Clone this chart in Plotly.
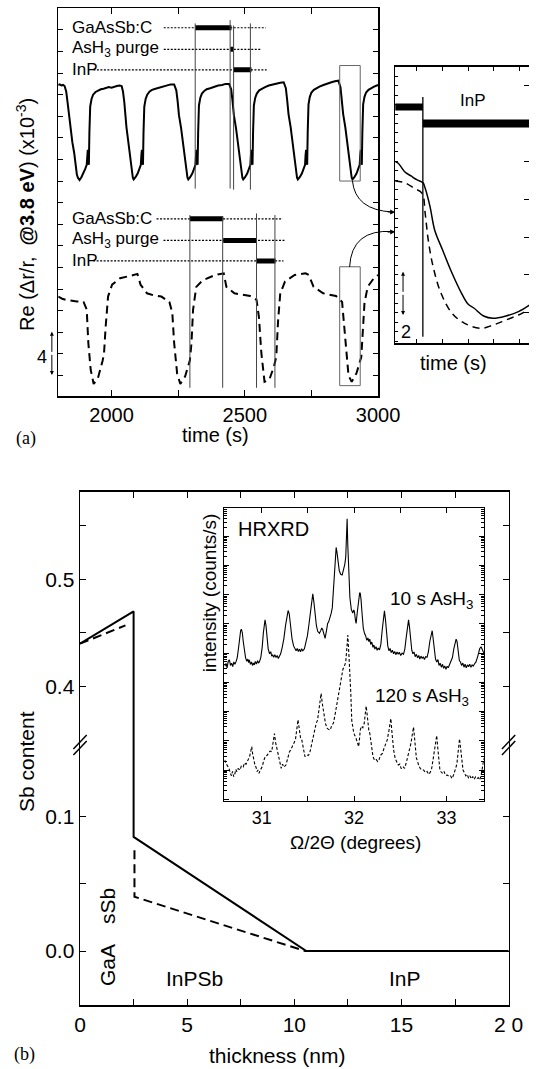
import plotly.graph_objects as go

W, H = 551, 1069
def fx(px): return px / W
def fy(py): return 1 - py / H

FONT = "Liberation Sans, Arial, sans-serif"
SERIF = "Liberation Serif, Times New Roman, serif"

# ---------------- Panel (a): RAS transients (Re dr/r, 1e-3, offset) ----------------
t_10s = [1800,1806,1812,1818,1824,1830,1835,1840,1845,1853,1860,1865,1870,1874,1877,1880,1887,1895,1901,1907,1909,1911,1913,1915,1917,1920,1925,1931,1940,1949,1960,1970,1980,1990,2000,2010,2020,2030,
         2038,2043,2048,2056,2063,2068,2073,2077,2080,2083,2090,2098,2104,2110,2112,2114,2116,2118,2120,2123,2128,2134,2143,2152,2165,2180,2195,2210,2222,2235,
         2243,2248,2253,2261,2268,2273,2278,2282,2285,2288,2295,2303,2309,2315,2317,2319,2321,2323,2325,2328,2333,2339,2348,2357,2370,2385,2400,2415,2428,2441,
         2449,2454,2459,2467,2474,2479,2484,2488,2491,2494,2501,2509,2515,2521,2523,2525,2527,2529,2531,2534,2539,2545,2554,2563,2576,2590,2605,2620,2633,2646,
         2654,2659,2664,2672,2679,2684,2689,2693,2696,2699,2706,2714,2720,2726,2728,2730,2732,2734,2736,2739,2744,2750,2759,2768,2780,2795,2810,2825,2838,2851,
         2859,2864,2869,2877,2884,2889,2894,2898,2901,2904,2911,2919,2925,2931,2933,2935,2937,2939,2941,2944,2949,2955,2964,2973,2985,3000]
re_10s = [28.9,28.95,28.85,28.9,28.8,28.3,27.3,26.1,25.0,23.6,22.6,21.4,20.6,20.3,20.2,20.1,20.35,20.7,21.1,21.5,22.4,22.9,22.2,21.5,24.5,26.9,27.6,28.0,28.25,28.4,28.5,28.55,28.6,28.7,28.65,28.75,28.8,28.85,
          28.8,28.3,27.3,25.0,23.6,22.6,21.4,20.6,20.3,20.15,20.35,20.7,21.1,21.5,22.4,22.9,22.2,21.5,24.5,26.9,27.6,28.0,28.3,28.45,28.55,28.65,28.75,28.85,28.95,28.95,
          28.4,27.4,26.1,24.9,23.6,22.6,21.4,20.6,20.3,20.15,20.35,20.7,21.1,21.5,22.4,22.9,22.2,21.5,24.5,27.0,27.7,28.1,28.35,28.5,28.6,28.75,28.85,28.9,29.0,29.0,
          28.5,27.4,26.1,24.9,23.6,22.6,21.4,20.6,20.3,20.15,20.35,20.7,21.1,21.5,22.4,22.9,22.2,21.5,24.5,27.0,27.7,28.1,28.4,28.55,28.7,28.85,28.95,29.05,29.1,29.15,
          28.6,27.5,26.2,25.0,23.6,22.6,21.4,20.6,20.3,20.15,20.35,20.7,21.1,21.5,22.4,22.9,22.2,21.5,24.5,27.1,27.8,28.2,28.45,28.6,28.75,28.9,29.05,29.15,29.25,29.3,
          28.7,27.5,26.2,25.0,23.6,22.6,21.4,20.6,20.3,20.15,20.35,20.7,21.1,21.5,22.4,22.9,22.2,21.5,24.5,27.1,27.8,28.2,28.45,28.6,28.75,28.9]
t_120s = [1800,1815,1829,1850,1870,1895,1903,1907,1913,1922,1933,1949,1967,1972,1978,1987,2002,2032,2068,2097,2109,2133,2160,2187,2217,2228,2235,2246,2258,2276,2294,2300,2306,2318,2342,2389,2421,2431,2461,2520,2544,2553,2562,2574,2592,2609,2618,2625,2633,2651,2687,2728,2740,2758,2794,2842,2865,2871,2879,2889,2901,2919,2937,2949,2961,2984,3000]
re_120s = [9.3,9.1,9.0,8.9,8.85,8.8,8.4,8.1,5.0,2.5,1.2,1.75,3.4,4.1,6.5,9.3,10.4,11.0,11.2,11.4,10.4,9.6,9.4,9.3,8.8,7.8,5.0,2.2,1.2,1.9,3.4,5.0,8.1,10.2,10.8,11.3,11.45,10.2,9.6,9.35,9.0,7.4,4.1,1.4,1.6,2.8,3.7,7.1,9.6,10.7,11.3,11.45,11.3,10.2,9.6,9.35,8.8,7.1,4.1,2.0,1.4,2.2,3.7,8.7,10.2,11.0,11.3]

# growth schedule (time in s)
sched_labels = ["GaAsSb:C", "AsH<sub>3</sub> purge", "InP"]
sched_level_10s = [34.2, 32.2, 30.3]
sched_dot_start_10s = [2196, 2196, 1932]
sched_dot_end_10s = [2579, 2561, 2582]
sched_on_10s = [2314, 2446, 2457]
sched_off_10s = [2450, 2457, 2525]
mark_t_10s = [2314, 2445, 2458, 2521]
mark_top_10s = [34.6, 34.9, 34.4, 34.6]
mark_bot_10s = [19.3, 19.3, 19.2, 19.2]
sched_level_120s = [16.5, 14.5, 12.6]
sched_dot_start_120s = [2169, 2195, 1931]
sched_dot_end_120s = [2642, 2649, 2645]
sched_on_120s = [2294, 2419, 2544]
sched_off_120s = [2419, 2544, 2615]
mark_t_120s = [2294, 2417, 2544, 2613]
mark_top_120s = [16.85, 16.7, 17.0, 16.85]
mark_bot_120s = [0.85, 0.85, 0.85, 0.85]
zoom_t = [2856, 2933]
zoom_y_10s = [20.0, 30.7]
zoom_y_120s = [1.05, 12.06]

# inset of (a)
tin_10s = [0.15,0.27,0.52,0.77,1.01,1.23,1.32,1.51,1.69,2.0,2.37,2.74,2.99,3.23,3.60,3.97,4.47,4.96,5.40]
rein_10s = [19.17,19.0,18.1,17.65,17.23,16.95,16.35,14.41,11.95,9.83,7.37,5.25,4.12,3.67,2.85,2.61,2.85,3.31,4.02]
tin_120s = [0.15,0.52,0.89,1.2,1.32,1.44,1.63,1.94,2.37,2.86,3.48,3.97,4.47,4.96,5.33]
rein_120s = [17.12,16.95,16.35,15.82,13.71,10.89,8.07,5.25,3.14,2.08,1.55,1.90,2.43,2.96,3.49]
inset_bar_start = [0.15, 1.23]
inset_bar_end = [1.23, 5.40]
inset_bar_level = [24.95, 23.2]

# ---------------- Panel (b): Sb profile ----------------
thick_up = [0, 2.5, 2.5]
sb_solid_up = [0.44, 0.47, 0.30]
thick_up_d = [0, 2.12]
sb_dash_up = [0.44, 0.457]
thick_lo = [2.5, 2.5, 10.56, 20]
sb_solid_lo = [0.20, 0.085, 0.0, 0.0]
thick_lo_d = [2.54, 2.54, 10.5, 20]
sb_dash_lo = [0.075, 0.0404, 0.0, 0.0]

# HRXRD inset (log10 intensity, offset curves)
omega_10s = [30.600,30.613,30.625,30.637,30.650,30.662,30.674,30.686,30.698,30.710,30.722,30.735,30.748,30.760,30.772,30.780,30.790,30.800,30.812,30.825,30.838,30.850,30.858,30.866,30.878,30.890,30.900,30.910,30.920,30.930,30.942,30.955,30.965,30.975,30.990,
             31.005,31.018,31.028,31.036,31.046,31.058,31.070,31.085,31.098,31.108,31.119,31.130,31.142,31.155,31.168,31.180,31.191,31.205,31.222,31.240,31.258,31.275,31.286,31.298,31.312,31.328,31.345,31.360,31.372,31.384,31.396,31.408,31.420,31.432,31.445,31.462,31.478,31.495,
             31.512,31.528,31.542,31.553,31.565,31.578,31.592,31.606,31.625,31.640,31.650,31.661,31.672,31.686,31.700,31.714,31.726,31.740,31.752,31.764,31.776,31.788,31.798,31.806,31.815,31.826,31.840,31.855,31.871,31.885,31.900,31.910,31.918,31.925,31.932,31.942,31.955,31.970,31.986,31.996,
             32.004,32.014,32.022,32.035,32.050,32.060,32.066,32.075,32.088,32.100,32.113,32.125,32.138,32.150,32.160,32.170,32.180,32.192,32.205,32.215,32.225,32.238,32.250,32.262,32.275,32.290,32.305,32.318,32.329,32.340,32.352,32.365,32.378,32.390,32.402,32.415,32.428,32.440,32.452,32.465,32.478,32.490,
             32.505,32.520,32.535,32.550,32.565,32.580,32.590,32.600,32.612,32.625,32.637,32.650,32.662,32.675,32.688,32.700,32.712,32.725,32.738,32.750,32.762,32.775,32.790,32.805,32.820,32.835,32.846,32.858,32.870,32.882,32.895,32.908,32.920,32.932,32.945,32.958,32.970,32.982,32.995,
             33.008,33.020,33.035,33.050,33.065,33.080,33.095,33.105,33.115,33.128,33.140,33.152,33.165,33.178,33.190,33.202,33.215,33.228,33.240,33.252,33.265,33.278,33.290,33.305,33.320,33.340,33.360,33.375,33.390,33.406]
logI_10s = [4.55,4.65,4.50,4.72,4.77,4.58,4.66,4.54,4.70,4.62,4.71,4.85,5.15,5.50,5.78,5.82,5.70,5.40,5.05,4.85,4.72,4.80,4.68,4.77,4.62,4.70,4.58,4.66,4.60,4.72,4.63,4.74,4.66,4.71,4.85,
            5.20,5.70,6.05,6.14,5.95,5.50,5.15,4.98,5.05,4.90,4.94,4.86,4.95,4.85,4.92,4.82,4.88,4.98,5.20,5.50,5.95,6.30,6.46,6.35,5.90,5.50,5.25,5.15,5.08,5.16,5.06,5.14,5.05,5.15,5.08,5.15,5.35,5.60,
            6.00,6.50,6.90,7.03,6.75,6.30,5.95,5.75,5.68,5.78,5.86,5.80,5.62,5.51,5.75,6.02,6.08,6.20,6.36,6.55,7.10,7.80,8.40,8.62,8.45,8.05,7.82,7.70,7.68,7.85,8.05,8.30,9.10,9.60,8.70,7.50,6.90,6.50,6.37,6.48,
            6.42,6.15,6.02,6.40,6.90,7.05,7.07,6.85,6.30,5.85,5.68,5.60,5.44,5.52,5.40,5.48,5.30,5.38,5.20,5.28,5.14,5.22,5.10,5.18,5.11,5.30,5.80,6.20,6.45,6.15,5.60,5.25,5.08,5.16,5.02,5.10,4.98,5.06,4.95,5.04,4.96,5.03,
            4.92,5.00,4.96,5.15,5.55,6.00,6.14,5.90,5.40,5.10,4.98,5.04,4.88,4.96,4.84,4.92,4.80,4.90,4.82,4.88,4.78,4.88,4.86,5.05,5.40,5.70,5.77,5.45,5.00,4.80,4.70,4.78,4.58,4.66,4.52,4.62,4.48,4.56,4.45,
            4.55,4.50,4.60,4.70,4.85,5.15,5.40,5.48,5.40,5.00,4.75,4.70,4.58,4.66,4.52,4.62,4.50,4.60,4.54,4.62,4.52,4.60,4.56,4.64,4.70,4.90,5.15,5.22,5.10,5.00]
omega_120s = [30.600,30.611,30.628,30.645,30.660,30.672,30.684,30.697,30.710,30.720,30.731,30.745,30.765,30.780,30.800,30.815,30.830,30.851,30.868,30.882,30.892,30.902,30.915,30.928,30.937,30.950,30.960,30.971,30.985,
              31.005,31.020,31.040,31.058,31.074,31.090,31.108,31.125,31.138,31.150,31.165,31.176,31.190,31.200,31.211,31.225,31.240,31.262,31.280,31.300,31.314,31.330,31.350,31.365,31.380,31.393,31.405,31.420,31.434,31.450,31.468,31.490,
              31.505,31.519,31.540,31.554,31.575,31.590,31.605,31.625,31.643,31.655,31.665,31.674,31.690,31.700,31.708,31.720,31.742,31.760,31.776,31.800,31.828,31.850,31.870,31.879,31.895,31.910,31.920,31.932,31.945,31.955,31.965,31.975,31.985,31.995,
              32.005,32.016,32.030,32.040,32.050,32.060,32.067,32.080,32.095,32.110,32.122,32.131,32.140,32.150,32.160,32.170,32.185,32.195,32.205,32.220,32.235,32.256,32.270,32.285,32.307,32.325,32.340,32.359,32.375,32.388,32.398,32.410,32.420,32.428,32.445,32.462,32.479,32.495,
              32.510,32.530,32.547,32.565,32.585,32.599,32.615,32.630,32.644,32.655,32.665,32.675,32.684,32.700,32.718,32.735,32.753,32.770,32.790,32.810,32.825,32.840,32.855,32.870,32.885,32.895,32.905,32.915,32.928,32.941,32.960,32.975,32.990,
              33.010,33.030,33.045,33.061,33.080,33.095,33.113,33.128,33.142,33.155,33.168,33.180,33.195,33.210,33.225,33.240,33.255,33.270,33.285,33.300,33.315,33.330,33.345,33.360,33.375,33.390,33.400,33.406]
logI_120s = [1.35,1.23,1.15,1.06,0.90,0.80,0.95,0.77,0.88,1.02,0.94,1.05,1.00,1.15,1.11,1.25,1.20,1.34,1.45,1.65,1.80,1.55,1.30,1.15,1.11,0.95,1.00,0.89,1.00,
             1.11,1.30,1.48,1.50,1.57,1.65,1.63,1.95,2.25,1.95,1.70,1.57,1.30,1.15,1.06,1.20,1.10,1.17,1.40,1.62,1.69,1.80,1.95,2.03,2.40,2.72,2.45,2.10,2.03,1.70,1.46,1.52,
             1.50,1.57,1.90,2.14,2.40,2.60,2.71,3.15,3.62,3.30,3.05,3.00,2.60,2.50,2.43,2.40,2.37,2.55,2.60,3.00,3.51,3.90,4.25,4.45,4.55,4.70,5.10,5.62,4.90,4.40,3.60,2.70,2.40,2.30,
             2.20,2.14,2.00,1.90,1.80,2.10,2.37,2.50,2.45,2.60,2.90,3.19,2.95,2.60,2.35,2.26,1.90,1.65,1.46,1.35,1.38,1.29,1.35,1.50,1.57,1.75,1.90,2.03,2.30,2.60,2.76,2.30,1.85,1.69,1.40,1.25,1.17,1.20,
             1.05,1.12,1.06,1.25,1.50,1.69,1.90,2.20,2.47,2.10,1.60,1.40,1.34,1.15,1.05,1.00,1.00,0.92,0.95,0.85,0.92,1.05,1.35,1.70,2.05,2.18,1.80,1.30,1.05,0.94,0.88,0.95,0.82,
             0.83,0.78,0.80,0.71,0.85,1.00,1.20,1.65,2.07,1.70,1.25,1.00,0.90,0.80,0.85,0.72,0.80,0.70,0.78,0.68,0.76,0.70,0.74,0.66,0.80,1.05,1.30,1.40]

# ---------------- figure ----------------
fig = go.Figure()
BLK = "black"

# panel a main
fig.add_trace(go.Scatter(x=t_10s, y=re_10s, mode="lines", line=dict(color=BLK, width=2), xaxis="x", yaxis="y"))
fig.add_trace(go.Scatter(x=t_120s, y=re_120s, mode="lines", line=dict(color=BLK, width=2, dash="8px,5px"), xaxis="x", yaxis="y"))
# inset a
fig.add_trace(go.Scatter(x=tin_10s, y=rein_10s, mode="lines", line=dict(color=BLK, width=1.5, shape="spline"), xaxis="x2", yaxis="y2"))
fig.add_trace(go.Scatter(x=tin_120s, y=rein_120s, mode="lines", line=dict(color=BLK, width=1.5, dash="7px,5px", shape="spline"), xaxis="x2", yaxis="y2"))
# panel b
fig.add_trace(go.Scatter(x=thick_up, y=sb_solid_up, mode="lines", line=dict(color=BLK, width=2), xaxis="x3", yaxis="y3"))
fig.add_trace(go.Scatter(x=thick_up_d, y=sb_dash_up, mode="lines", line=dict(color=BLK, width=2, dash="9px,5px"), xaxis="x3", yaxis="y3"))
fig.add_trace(go.Scatter(x=thick_lo, y=sb_solid_lo, mode="lines", line=dict(color=BLK, width=2), xaxis="x4", yaxis="y4"))
fig.add_trace(go.Scatter(x=thick_lo_d, y=sb_dash_lo, mode="lines", line=dict(color=BLK, width=2, dash="9px,5px"), xaxis="x4", yaxis="y4"))
# HRXRD inset
fig.add_trace(go.Scatter(x=omega_10s, y=[10 ** v for v in logI_10s], mode="lines", line=dict(color=BLK, width=1.1), xaxis="x5", yaxis="y5"))
fig.add_trace(go.Scatter(x=omega_120s, y=[10 ** v for v in logI_120s], mode="lines", line=dict(color=BLK, width=1.1, dash="3px,2px"), xaxis="x5", yaxis="y5"))
# invisible trace to carry the right-hand tick column of the (a) inset
fig.add_trace(go.Scatter(x=[tin_10s[0]], y=[rein_10s[0]], mode="markers", marker=dict(opacity=0), xaxis="x2", yaxis="y6"))

shapes = []
annotations = []

# schedule bars and markers
for lev, d0, d1, b0, b1 in [(sched_level_10s[i], sched_dot_start_10s[i], sched_dot_end_10s[i], sched_on_10s[i], sched_off_10s[i]) for i in range(3)] + \
                           [(sched_level_120s[i], sched_dot_start_120s[i], sched_dot_end_120s[i], sched_on_120s[i], sched_off_120s[i]) for i in range(3)]:
    shapes.append(dict(type="line", xref="x", yref="y", x0=d0, x1=d1, y0=lev, y1=lev, line=dict(color=BLK, width=1.2, dash="2px,1.5px")))
    shapes.append(dict(type="line", xref="x", yref="y", x0=b0, x1=b1, y0=lev, y1=lev, line=dict(color=BLK, width=5)))
for lev_list in (sched_level_10s, sched_level_120s):
    for lab, lev in zip(sched_labels, lev_list):
        annotations.append(dict(xref="x", yref="y", x=1843, y=lev, text=lab, showarrow=False, xanchor="left", yanchor="middle",
                                font=dict(size=17, family=FONT, color=BLK)))
for tl, tt, bb in list(zip(mark_t_10s, mark_top_10s, mark_bot_10s)) + list(zip(mark_t_120s, mark_top_120s, mark_bot_120s)):
    shapes.append(dict(type="line", xref="x", yref="y", x0=tl, x1=tl, y0=bb, y1=tt, line=dict(color="#444", width=1)))
for yy in (zoom_y_10s, zoom_y_120s):
    shapes.append(dict(type="rect", xref="x", yref="y", x0=zoom_t[0], x1=zoom_t[1], y0=yy[0], y1=yy[1], line=dict(color="#666", width=1)))

# inset a bars
for b0, b1, lev, w in zip(inset_bar_start, inset_bar_end, inset_bar_level, [7, 8]):
    shapes.append(dict(type="line", xref="x2", yref="y2", x0=b0, x1=b1, y0=lev, y1=lev, line=dict(color=BLK, width=w)))
shapes.append(dict(type="line", xref="x2", yref="y2", x0=1.23, x1=1.23, y0=0.67, y1=26.0, line=dict(color=BLK, width=1.3)))

# connectors
shapes.append(dict(type="path", xref="paper", yref="paper",
                   path=f"M {fx(365)},{fy(181)} Q {fx(368)},{fy(210)} {fx(407)},{fy(212)}", line=dict(color=BLK, width=1)))
shapes.append(dict(type="path", xref="paper", yref="paper",
                   path=f"M {fx(362)},{fy(267)} Q {fx(364)},{fy(229)} {fx(407)},{fy(231.5)}", line=dict(color=BLK, width=1)))
annotations.append(dict(xref="paper", yref="paper", x=fx(410), y=fy(212.3), ax=-9, ay=-0.5, text="", showarrow=True,
                        arrowhead=2, arrowsize=1, arrowwidth=1, arrowcolor=BLK))
annotations.append(dict(xref="paper", yref="paper", x=fx(410), y=fy(231.7), ax=-9, ay=0.5, text="", showarrow=True,
                        arrowhead=2, arrowsize=1, arrowwidth=1, arrowcolor=BLK))

# scale arrows
for (xp, ytop, ybot) in [(48.3, 331.7, 375.0), (418.3, 271.7, 315.0)]:
    mid = (ytop + ybot) / 2
    for tip in (ytop, ybot):
        annotations.append(dict(xref="paper", yref="paper", x=fx(xp), y=fy(tip), ax=0, ay=(mid - tip), text="", showarrow=True,
                                arrowhead=2, arrowsize=0.8, arrowwidth=1, arrowcolor=BLK))

# break marks on panel b axes
for xp in (78, 529.5):
    for dy in (-3, 3):
        shapes.append(dict(type="line", xref="paper", yref="paper", x0=fx(xp - 7), y0=fy(745 + dy + 7), x1=fx(xp + 7), y1=fy(745 + dy - 7),
                           line=dict(color=BLK, width=1.5)))

def txt(px, py, s, size=20, angle=0, family=FONT, xanchor="center"):
    annotations.append(dict(xref="paper", yref="paper", x=fx(px), y=fy(py), text=s, showarrow=False, textangle=angle,
                            xanchor=xanchor, yanchor="middle", font=dict(size=size, family=family, color=BLK)))

# panel a texts
txt(20, 214, "Re (Δr/r,  <b>@3.8 eV</b>) (x10<sup>-3</sup>)", size=20, angle=-90)
txt(221, 435, "time (s)", size=20)
txt(21, 439, "(a)", size=18, family=SERIF)
txt(38.3, 356.7, "4", size=18)
txt(421, 332, "2", size=18)
txt(491.7, 100, "InP", size=17)
txt(471.7, 363, "time (s)", size=20)
# panel b texts
txt(21, 761, "Sb content", size=21, angle=-90)
txt(286.4, 1055, "thickness (nm)", size=21)
txt(19.3, 1054, "(b)", size=18, family=SERIF)
txt(106.5, 965, "GaA", size=21, angle=-90)
txt(106.5, 906, "sSb", size=21, angle=-90)
txt(198.5, 978, "InPSb", size=21)
txt(419.9, 978, "InP", size=21)
txt(242.4, 529, "HRXRD", size=20, xanchor="left")
txt(402, 600, "10 s AsH<sub>3</sub>", size=19, xanchor="left")
txt(386.6, 697, "120 s AsH<sub>3</sub>", size=19, xanchor="left")
txt(214, 593, "intensity (counts/s)", size=19, angle=-90)
txt(368, 842, "Ω/2Θ (degrees)", size=19)

axis_common = dict(showline=True, linecolor=BLK, linewidth=1.5, ticks="inside", tickcolor=BLK, showgrid=False, zeroline=False)

layout = dict(
    width=W, height=H, margin=dict(l=0, r=0, t=0, b=0), paper_bgcolor="white", plot_bgcolor="rgba(0,0,0,0)",
    showlegend=False, font=dict(family=FONT, color=BLK), hovermode=False,
    # panel a main
    xaxis=dict(domain=[fx(55), fx(392)], range=[1800, 3000], anchor="y", mirror="ticks", ticklen=6,
               tickvals=[2000, 2250, 2500, 2750, 3000], ticktext=["2000", "", "2500", "", "3000"],
               tickfont=dict(size=20), **axis_common),
    yaxis=dict(domain=[fy(396), fy(8.3)], range=[0.09, 36.0], anchor="x", mirror="ticks", ticklen=5, dtick=2, tick0=0,
               showticklabels=False, **axis_common),
    # inset a
    xaxis2=dict(domain=[fx(410), 1.0], range=[0.15, 5.37], anchor="y2", mirror="ticks", ticklen=4, dtick=1, tick0=0,
                showticklabels=False, **axis_common),
    yaxis2=dict(domain=[fy(343), fy(66.7)], range=[0, 29.2], anchor="x2", ticklen=3, dtick=1, tick0=0.2,
                showticklabels=False, **axis_common),
    yaxis6=dict(overlaying="y2", side="right", anchor="x2", range=[0, 29.2], showline=False, ticks="inside", ticklen=5,
                tickcolor=BLK, dtick=4, tick0=3.2, showticklabels=False, showgrid=False, zeroline=False),
    # panel b upper
    xaxis3=dict(domain=[fx(78), fx(529.5)], range=[0, 20], anchor="y3", side="top", ticklen=6,
                tickvals=[0, 2.5, 5, 7.5, 10, 12.5, 15, 17.5, 20], showticklabels=False, **axis_common),
    yaxis3=dict(domain=[fy(745), fy(491.7)], range=[0.3456, 0.5816], anchor="x3", mirror="ticks", ticklen=6,
                tickvals=[0.4, 0.45, 0.5, 0.55], ticktext=["0.4", "", "0.5", ""], tickfont=dict(size=21), **axis_common),
    # panel b lower
    xaxis4=dict(domain=[fx(78), fx(529.5)], range=[0, 20], anchor="y4", ticklen=6,
                tickvals=[0, 2.5, 5, 7.5, 10, 12.5, 15, 17.5, 20], ticktext=["0", "", "5", "", "10", "", "15", "", "2 0"],
                tickfont=dict(size=21), **axis_common),
    yaxis4=dict(domain=[fy(1005), fy(745)], range=[-0.0402, 0.1534], anchor="x4", mirror="ticks", ticklen=6,
                tickvals=[0, 0.05, 0.1], ticktext=["0.0", "", "0.1"], tickfont=dict(size=21), **axis_common),
    # HRXRD inset
    xaxis5=dict(domain=[fx(230.1), fx(503.5)], range=[30.596, 33.406], anchor="y5", mirror="ticks", ticklen=5,
                tickvals=[31, 31.5, 32, 32.5, 33], ticktext=["31", "", "32", "", "33"], tickfont=dict(size=18), **axis_common),
    yaxis5=dict(domain=[fy(800.7), fy(508.3)], type="log", range=[-0.05, 9.96], anchor="x5", mirror="ticks", ticklen=5, dtick=1,
                showticklabels=False, minor=dict(ticks="inside", ticklen=2.5, tickcolor=BLK, dtick="D1", showgrid=False), **axis_common),
    shapes=shapes, annotations=annotations,
)
fig.update_layout(**layout)
fig.write_html("out.html", config={"displayModeBar": False, "staticPlot": True},
               post_script="document.body.style.margin='0px';document.body.style.overflow='hidden';")
